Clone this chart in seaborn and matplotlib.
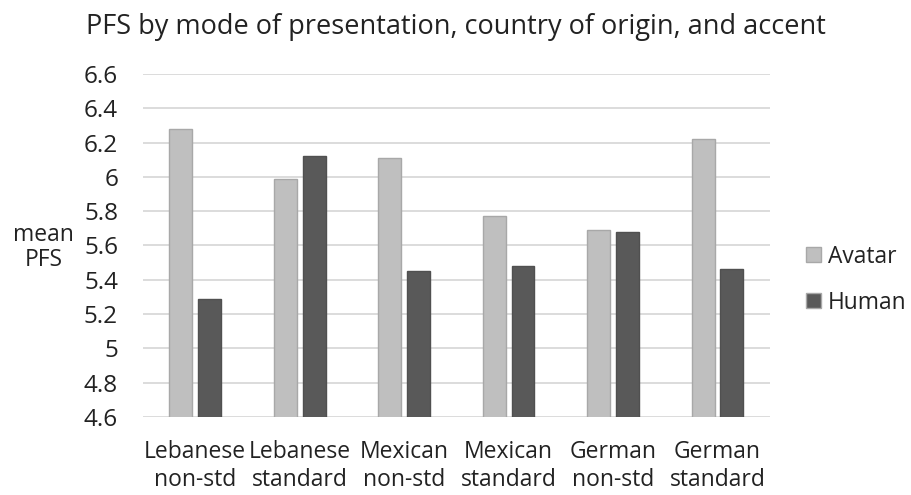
import matplotlib
matplotlib.use("Agg")
import matplotlib.pyplot as plt
import seaborn as sns
import pandas as pd

categories = ["Lebanese\nnon-std", "Lebanese\nstandard", "Mexican\nnon-std",
              "Mexican\nstandard", "German\nnon-std", "German\nstandard"]
avatar = [6.28, 5.99, 6.11, 5.77, 5.69, 6.22]
human = [5.29, 6.12, 5.45, 5.48, 5.68, 5.46]
series = ["Avatar", "Human"]
yticks = [4.6, 4.8, 5.0, 5.2, 5.4, 5.6, 5.8, 6.0, 6.2, 6.4, 6.6]
ytick_labels = ["4.6", "4.8", "5", "5.2", "5.4", "5.6", "5.8", "6", "6.2", "6.4", "6.6"]

df = pd.DataFrame({
    "category": categories * 2,
    "mode": [series[0]] * len(categories) + [series[1]] * len(categories),
    "value": avatar + human,
})

sns.set_style("white")
plt.rcParams["font.family"] = ["Open Sans", "DejaVu Sans"]

fig = plt.figure(figsize=(9.11, 4.95), dpi=100)
ax = fig.add_axes([0.157, 0.158, 0.688, 0.6925])

sns.barplot(data=df, x="category", y="value", hue="mode", order=categories,
            hue_order=series, palette={"Avatar": "#BFBFBF", "Human": "#595959"},
            width=0.55, gap=0.2, ax=ax, linewidth=1,
            edgecolor="#A8A8A8", errorbar=None)
for p in ax.patches[len(categories):2 * len(categories)]:
    p.set_edgecolor("#505050")

ax.set_ylim(4.6, 6.6)
ax.set_yticks(yticks)
ax.set_yticklabels(ytick_labels, fontsize=17.5, color="#222222")
ax.tick_params(axis="x", labelsize=16.5, colors="#222222", length=0, pad=17)
ax.tick_params(axis="y", length=0, pad=18)
ax.grid(axis="y", color="#D9D9D9", linewidth=1.3)
ax.set_axisbelow(True)
for s in ax.spines.values():
    s.set_visible(False)
ax.set_xlabel("")
ax.set_ylabel("mean\nPFS", rotation=0, fontsize=16.5, color="#222222",
              labelpad=0, va="center", ha="center", linespacing=1.1)
ax.yaxis.set_label_coords(-0.159, 0.494)

ax.legend(frameon=False, fontsize=16.4, loc="center left",
          bbox_to_anchor=(0.885, 0.435), bbox_transform=fig.transFigure,
          borderaxespad=0, borderpad=0,
          handlelength=0.66, handleheight=0.66, handletextpad=0.3,
          labelspacing=0.97, labelcolor="#222222")

fig.text(0.501, 0.945, "PFS by mode of presentation, country of origin, and accent",
         ha="center", va="center", fontsize=19.5, color="#222222")

fig.savefig("out.png", dpi=100)
